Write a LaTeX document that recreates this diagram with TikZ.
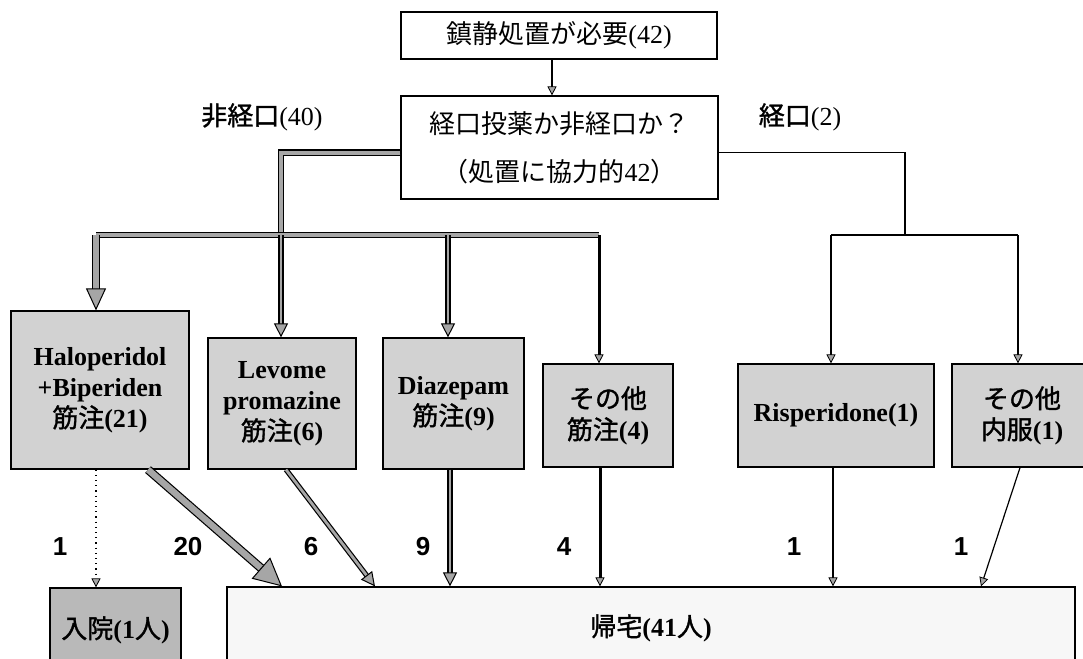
\documentclass[tikz,border=0pt]{standalone}
\usepackage{fontspec}
\setmainfont{Liberation Serif}
\newfontfamily\jp{Noto Sans CJK JP}
\newfontfamily\jpm[FakeBold=1.3]{Noto Sans CJK JP}
\newcommand\jtxt[1]{{\jpm\mdseries #1}}
\newfontfamily\arl{Liberation Sans}
\usetikzlibrary{arrows.meta}
\tikzset{
  wbox/.style={draw=black, line width=0.6pt, fill=white, inner sep=0pt, align=center, font=\fontsize{13}{16}\selectfont},
  gbox/.style={draw=black, line width=0.6pt, fill=gray!35, inner sep=0pt, align=center, font=\bfseries\fontsize{13}{15.5}\selectfont},
  lbl/.style={inner sep=0pt, font=\fontsize{13}{16}\selectfont},
  num/.style={inner sep=0pt, font=\arl\bfseries\fontsize{13}{16}\selectfont},
  tline/.style={draw=black, line width=0.6pt, double=gray!70, double distance=2pt},
  thin/.style={draw=black, line width=0.6pt},
  stip/.style={-{Triangle[length=4.5pt, width=4.5pt, fill=gray!70, line width=0.4pt]}},
  mtip/.style={-{Triangle[length=7pt, width=7pt, fill=gray!70, line width=0.5pt]}},
  btip/.style={-{Triangle[length=11pt, width=10pt, fill=gray!70, line width=0.5pt]}},
  htip/.style={-{Triangle[length=14pt, width=14pt, fill=gray!70, line width=0.5pt]}},
}
\begin{document}
\begin{tikzpicture}[x=0.5pt, y=-0.5pt]
\useasboundingbox (0,0) rectangle (1083,659);
\clip (0,0) rectangle (1083,659);
\fill[white] (0,0) rectangle (1083,659);

% nodes
\node[wbox, minimum width=158pt, minimum height=23.5pt] (top) at (559,35.5) {{\jp 鎮静処置が必要}(42)};
\node[wbox, minimum width=158.5pt, minimum height=51.5pt] (q) at (559.5,147.5)
  {{\jp 経口投薬か非経口か？}\\[8pt]{\jp （処置に協力的}42{\jp ）}};
\node[lbl] (l1) at (262,117) {\jtxt{非経口}(40)};
\node[lbl] (l2) at (800,117) {\jtxt{経口}(2)};

\node[gbox, minimum width=89pt, minimum height=79pt] (halo) at (100,390)
  {Haloperidol\\+Biperiden\\\jtxt{筋注}(21)};
\node[gbox, minimum width=74pt, minimum height=65.5pt] (levo) at (282,403.5)
  {Levome\\promazine\\\jtxt{筋注}(6)};
\node[gbox, minimum width=70.5pt, minimum height=65.5pt] (diaz) at (453.5,403.5)
  {Diazepam\\\jtxt{筋注}(9)};
\node[gbox, minimum width=65pt, minimum height=51.5pt] (sono) at (608,415.5)
  {\jtxt{その他}\\\jtxt{筋注}(4)};
\node[gbox, minimum width=98pt, minimum height=51.5pt] (risp) at (836,415.5)
  {Risperidone(1)};
\node[gbox, minimum width=70pt, minimum height=51.5pt] (oth) at (1022,415.5)
  {\jtxt{その他}\\\jtxt{内服}(1)};

\node[gbox, fill=gray!55, minimum width=65.5pt, minimum height=42pt] (nyuin) at (115.5,630)
  {\jtxt{入院}(1\jtxt{人})};
\node[gbox, fill=gray!6, minimum width=424pt, minimum height=41pt] (home) at (651,628)
  {\jtxt{帰宅}(41\jtxt{人})};

% numbers
\node[num] (n1) at (60,547) {1};
\node[num] (n2) at (188,547) {20};
\node[num] (n3) at (311,547) {6};
\node[num] (n4) at (423,547) {9};
\node[num] (n5) at (564,547) {4};
\node[num] (n6) at (794,547) {1};
\node[num] (n7) at (961,547) {1};

% junctions
\coordinate (jL) at (281,235);
\coordinate (bL) at (96,235);
\coordinate (bD) at (448,235);
\coordinate (bR) at (599,235);
\coordinate (jR) at (905,235);
\coordinate (cR1) at (831,235);
\coordinate (cR2) at (1018,235);

% top arrow
\draw[thin, stip] (top.south -| 552,0) -- (q.north -| 552,0);

% left (non-oral) tree
\draw[tline] ([yshift=-2.5pt]q.west) -| (jL);
\draw[tline] (bL) -- (bR);
\draw[tline, double distance=2.8pt, btip] (bL) -- (bL |- halo.north);
\draw[tline, double distance=1.4pt, mtip] (jL) -- (jL |- levo.north);
\draw[tline, double distance=1.4pt, mtip] (bD) -- (bD |- diaz.north);
\draw[thin, line width=1.5pt, stip] (bR) -- (bR |- sono.north);

% right (oral) tree
\draw[thin] ([yshift=-2.5pt]q.east) -| (jR);
\draw[thin] (cR1) -- (cR2);
\draw[thin, stip] (cR1) -- (cR1 |- risp.north);
\draw[thin, stip] (cR2) -- (cR2 |- oth.north);

% outcomes
\draw[thin, line width=0.6pt, dotted, stip] (halo.south -| bL) -- (nyuin.north -| bL);
\draw[tline, double distance=3.2pt, htip] (148,0 |- halo.south) -- (282,0 |- home.north);
\draw[tline, double distance=1.4pt, mtip] (286,0 |- levo.south) -- (375,0 |- home.north);
\draw[tline, double distance=1.4pt, mtip] (450,0 |- diaz.south) -- (450,0 |- home.north);
\draw[thin, line width=1.5pt, stip] (600,0 |- sono.south) -- (600,0 |- home.north);
\draw[thin, stip] (833,0 |- risp.south) -- (833,0 |- home.north);
\draw[thin, stip] (1020,0 |- oth.south) -- (981,0 |- home.north);
\end{tikzpicture}
\end{document}
